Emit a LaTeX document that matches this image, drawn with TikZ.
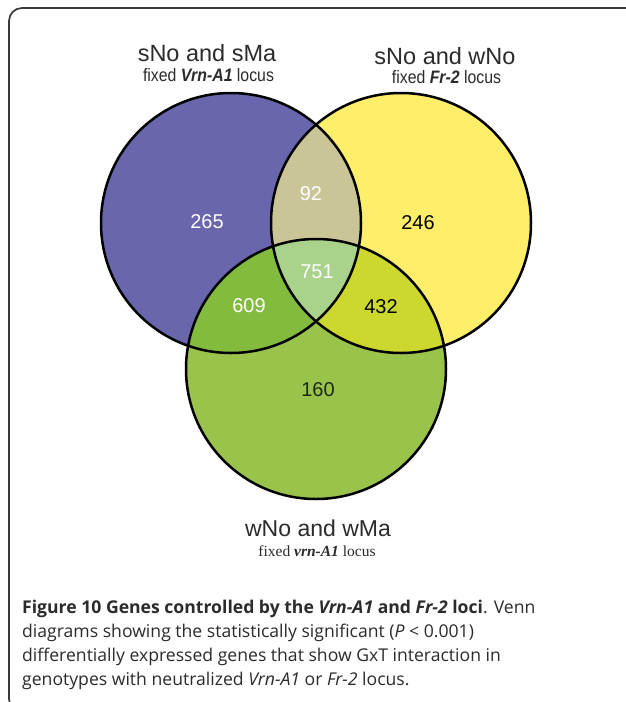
\documentclass[tikz,border=0pt]{standalone}
\usepackage{fontspec}
\setmainfont{Liberation Sans}
\newfontfamily\capfont{Open Sans}
\newfontfamily\subserif{Liberation Serif}
\definecolor{cPurple}{HTML}{6A66AD}
\definecolor{cYellow}{HTML}{FFEE6A}
\definecolor{cGreen}{HTML}{9AC34B}
\definecolor{cLR}{HTML}{C9C596}
\definecolor{cLB}{HTML}{82BB3D}
\definecolor{cRB}{HTML}{CCD82E}
\definecolor{cLRB}{HTML}{A9D38A}
\definecolor{cFrame}{HTML}{3A3A3A}
\definecolor{cText}{HTML}{2B2B2B}
\definecolor{cDark}{HTML}{1E2A12}
\tikzset{
  vennline/.style={draw=black, line width=2.5pt},
  numw/.style={text=white, font=\fontsize{20}{24}\selectfont, inner sep=0pt},
  numb/.style={text=black, font=\fontsize{20}{24}\selectfont, inner sep=0pt},
  settitle/.style={text=cText, font=\fontsize{23.5}{28}\selectfont, inner sep=0pt, anchor=base},
  setsub/.style={text=cText, font=\fontsize{18}{21}\selectfont, inner sep=0pt, anchor=base},
  capline/.style={text=cText, font=\capfont\fontsize{17.6}{20}\selectfont, inner sep=0pt, anchor=base west},
}
\begin{document}
\begin{tikzpicture}[x=1pt,y=-1pt]
\useasboundingbox (0,0) rectangle (625,702);
\fill[white] (0,0) rectangle (625,702);
\draw[cFrame, line width=1.7pt, rounded corners=13pt] (9,8) rectangle (690,712);
\coordinate (cL) at (231,223);
\coordinate (cR) at (401,223);
\coordinate (cB) at (316,369);
% base fills
\fill[cPurple] (cL) circle[radius=130];
\fill[cYellow] (cR) circle[radius=130];
\fill[cGreen] (cB) circle[radius=130];
% pairwise intersections
\begin{scope}
  \clip (cL) circle[radius=130];
  \fill[cLR] (cR) circle[radius=130];
  \fill[cLB] (cB) circle[radius=130];
\end{scope}
\begin{scope}
  \clip (cR) circle[radius=130];
  \fill[cRB] (cB) circle[radius=130];
\end{scope}
\begin{scope}
  \clip (cL) circle[radius=130];
  \clip (cR) circle[radius=130];
  \fill[cLRB] (cB) circle[radius=130];
\end{scope}
% outlines
\draw[vennline] (cL) circle[radius=130];
\draw[vennline] (cR) circle[radius=130];
\draw[vennline] (cB) circle[radius=130];
% numbers
\node[numw] (n265) at (207,222) {265};
\node[numw] (n92) at (311,194) {92};
\node[numb] (n246) at (418,223) {246};
\node[numw] (n751) at (317,272) {751};
\node[numw] (n609) at (249,306) {609};
\node[numb] (n432) at (381,307) {432};
\node[numb, text=cDark] (n160) at (318,390) {160};
% set titles
\node[settitle] (tL) at (207,61.5) {sNo and sMa};
\node[setsub] (sL) at (208.5,81) {\scalebox{0.88}[1]{fixed \textbf{\textit{Vrn-A1}} locus}};
\node[settitle] (tR) at (445,64.5) {sNo and wNo};
\node[setsub] (sR) at (446.5,83) {\scalebox{0.88}[1]{fixed \textbf{\textit{Fr-2}} locus}};
\node[settitle, font=\fontsize{23}{28}\selectfont] (tB) at (318,536) {wNo and wMa};
\node[setsub, font=\subserif\fontsize{15.5}{18}\selectfont] (sB) at (317,556) {fixed \textbf{\textit{vrn-A1}} locus};
% caption
\node[capline] (c1) at (22,613) {\textbf{Figure 10 Genes controlled by the \textit{Vrn-A1} and \textit{Fr-2} loci}. Venn};
\node[capline] (c2) at (22,637) {diagrams showing the statistically significant (\textit{P} < 0.001)};
\node[capline] (c3) at (22,661) {differentially expressed genes that show GxT interaction in};
\node[capline] (c4) at (22,685) {genotypes with neutralized \textit{Vrn-A1} or \textit{Fr-2} locus.};
\end{tikzpicture}
\end{document}
